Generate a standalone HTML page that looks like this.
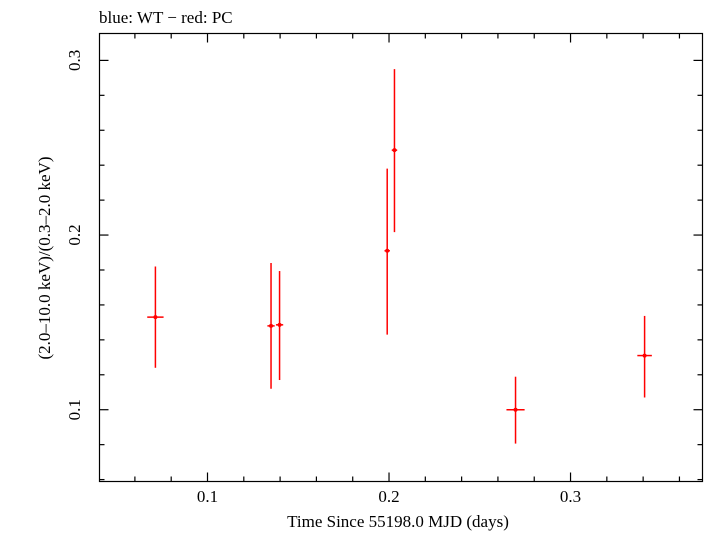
<!DOCTYPE html>
<html><head><meta charset="utf-8"><style>
body{margin:0;background:#fff;}
svg text{font-family:"Liberation Serif",serif;fill:#000;}
</style></head><body>
<svg id="chart" width="705" height="532" xmlns="http://www.w3.org/2000/svg">
<text x="99" y="23" font-size="17">blue: WT − red: PC</text>
<rect x="99.5" y="33.5" width="603" height="448" fill="none" stroke="#000" stroke-width="1.2"/>
<g id="ticks"></g>
<g id="marks"></g>
<text x="398" y="527" font-size="17" text-anchor="middle">Time Since 55198.0 MJD (days)</text>
<text transform="translate(50,258) rotate(-90)" font-size="17" text-anchor="middle">(2.0–10.0 keV)/(0.3–2.0 keV)</text>
</svg>
<script>
const xVals=[0.0713,0.135,0.1397,0.199,0.203,0.2697,0.3408];
const xErr=[0.0045,0.002,0.002,0.0015,0.0015,0.005,0.004];
const yVals=[0.153,0.148,0.1486,0.191,0.2486,0.100,0.131];
const yHi=[0.182,0.184,0.1794,0.238,0.295,0.1189,0.1537];
const yLo=[0.124,0.112,0.117,0.143,0.2017,0.0806,0.107];
const xTickLabels=["0.1","0.2","0.3"];
const yTickLabels=["0.1","0.2","0.3"];
const L=99.5,R=702.5,T=33.5,B=481.5;
const xMin=0.0405,xMax=0.3727,yMin=0.0589,yMax=0.3154;
const sx=v=>L+(v-xMin)/(xMax-xMin)*(R-L);
const sy=v=>B-(v-yMin)/(yMax-yMin)*(B-T);
const NS="http://www.w3.org/2000/svg";
function mk(tag,attrs,parent){const e=document.createElementNS(NS,tag);for(const k in attrs)e.setAttribute(k,attrs[k]);parent.appendChild(e);return e;}
const tg=document.getElementById('ticks');
for(let i=2;i<=18;i++){const v=i*0.02;if(v<xMin||v>xMax)continue;const major=i%5==0;const len=major?9:5;const x=sx(v);
 let t=mk('line',{x1:x,x2:x,y1:B,y2:B-len,stroke:'#000','stroke-width':1.2},tg);
 t=mk('line',{x1:x,x2:x,y1:T,y2:T+len,stroke:'#000','stroke-width':1.2},tg);}
xTickLabels.forEach(s=>{const t=mk('text',{x:sx(parseFloat(s)),y:502,'font-size':17,'text-anchor':'middle'},tg);t.textContent=s;});
for(let i=3;i<=15;i++){const v=i*0.02;if(v<yMin||v>yMax)continue;const major=i%5==0;const len=major?9:5;const y=sy(v);
 let t=mk('line',{x1:L,x2:L+len,y1:y,y2:y,stroke:'#000','stroke-width':1.2},tg);
 t=mk('line',{x1:R,x2:R-len,y1:y,y2:y,stroke:'#000','stroke-width':1.2},tg);}
yTickLabels.forEach(s=>{const y=sy(parseFloat(s));const t=mk('text',{x:0,y:0,'font-size':17,'text-anchor':'middle',transform:`translate(80,${y}) rotate(-90)`},tg);t.textContent=s;});
const mg=document.getElementById('marks');
xVals.forEach((xv,i)=>{const g=mk('g',{},mg);
 mk('line',{x1:sx(xv),x2:sx(xv),y1:sy(yHi[i]),y2:sy(yLo[i]),stroke:'#f00','stroke-width':1.5},g);
 mk('line',{x1:sx(xv-xErr[i]),x2:sx(xv+xErr[i]),y1:sy(yVals[i]),y2:sy(yVals[i]),stroke:'#f00','stroke-width':1.5},g);
 mk('circle',{cx:sx(xv),cy:sy(yVals[i]),r:2,fill:'#f00'},g);});
</script>
</body></html>
